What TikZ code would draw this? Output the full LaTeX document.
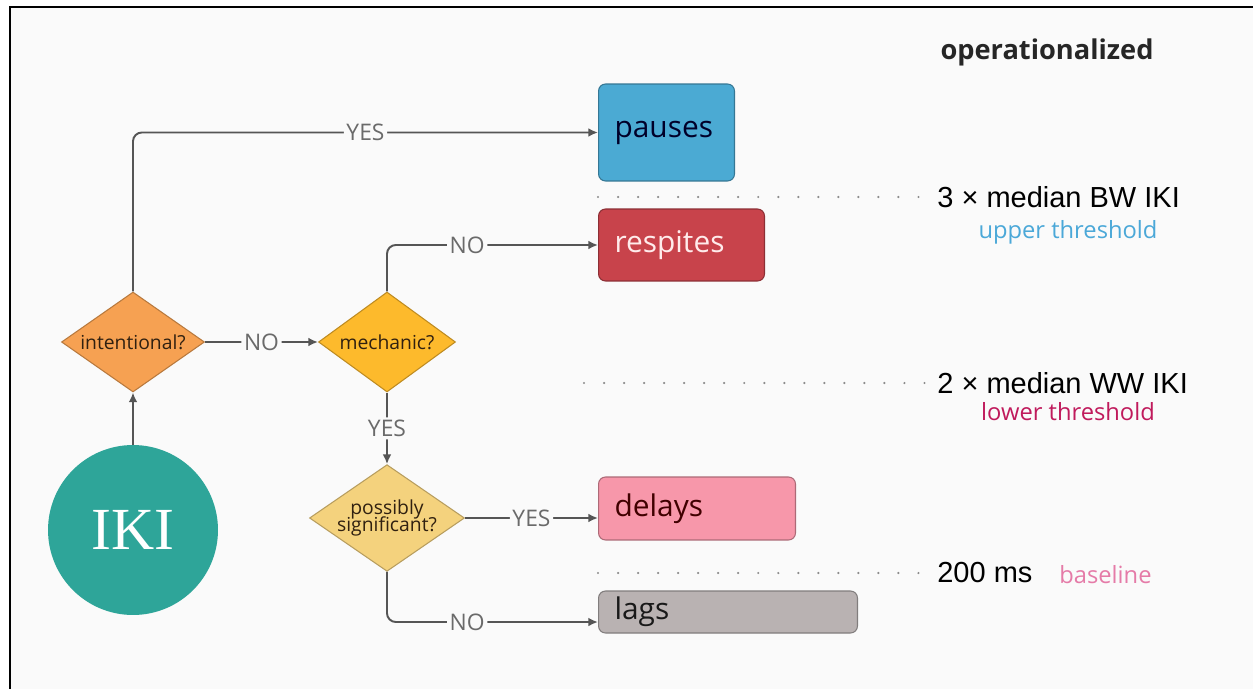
\documentclass[tikz,border=0pt]{standalone}
\usepackage{fontspec}
\setmainfont{Open Sans}
\newfontfamily\valfont{Liberation Sans}
\newfontfamily\ikifont{Liberation Serif}
\usepackage{tikz}
\usetikzlibrary{arrows.meta, positioning, shapes.geometric, calc}

\definecolor{bgcol}{HTML}{FAFAFA}
\definecolor{linecol}{HTML}{555555}
\definecolor{labcol}{HTML}{6A6A6A}
\definecolor{ikicol}{HTML}{2EA599}
\definecolor{intcol}{HTML}{F6A152}
\definecolor{mechcol}{HTML}{FDBA2C}
\definecolor{posscol}{HTML}{F4D27D}
\definecolor{pausecol}{HTML}{4BAAD3}
\definecolor{respcol}{HTML}{C8434B}
\definecolor{delaycol}{HTML}{F797AA}
\definecolor{lagcol}{HTML}{B9B2B2}
\definecolor{uppercol}{HTML}{4BA8D8}
\definecolor{lowercol}{HTML}{C01A5C}
\definecolor{basecol}{HTML}{E57BA8}

\tikzset{
  question/.style={diamond, draw=#1!75!black, fill=#1, line width=0.6pt,
    shape aspect=1.43, minimum width=2.86cm, minimum height=2cm, inner sep=0pt,
    font=\fontsize{11}{12}\selectfont, text=black!75!brown, align=center},
  outcome/.style={rectangle, rounded corners=4pt, draw=#1!70!black, fill=#1,
    line width=0.6pt, anchor=west, align=left, inner xsep=0.32cm,
    font=\fontsize{17}{19}\selectfont},
  flow/.style={draw=linecol, line width=1.1pt, rounded corners=5pt,
    -{Latex[length=5.5pt,width=5pt]}},
  answer/.style={fill=bgcol, text=labcol, inner sep=1.5pt,
    font=\fontsize{13}{14}\selectfont},
  level/.style={draw=black!45, line width=1.4pt, line cap=round,
    dash pattern=on 0pt off 11.4pt},
  value/.style={anchor=west, inner sep=0pt, font=\valfont\fontsize{16.5}{18}\selectfont},
  note/.style={inner sep=0pt, font=\fontsize{13.5}{15}\selectfont}
}

\begin{document}
\begin{tikzpicture}[x=0.02cm, y=-0.02cm]
  \useasboundingbox (0,0) rectangle (1253,689);

  % frame and background
  \fill[bgcol] (10,7) rectangle (1253,689);
  \draw[black, line width=1.6pt] (1253,7) -- (10,7) -- (10,689);

  % start
  \node[circle, fill=ikicol, minimum size=3.4cm, inner sep=0pt, text=white,
    font=\ikifont\fontsize{34}{36}\selectfont] (iki) at (133,530) {IKI};

  % decisions
  \node[question=intcol] (intent) at (133,342) {intentional?};
  \node[question=mechcol, minimum width=2.74cm] (mech) at (387,342) {mechanic?};
  \node[question=posscol, minimum width=3.1cm, minimum height=2.06cm] (poss) at (387,518)
    {possibly\\[-2pt]significant?};

  % outcomes
  \node[outcome=pausecol, text=black!60!blue!40!black, minimum height=1.94cm,
    text width=2.08cm] (pauses) at (598,132.5) {pauses};
  \node[outcome=respcol, text=red!8!white, minimum height=1.44cm,
    text width=2.68cm] (respites) at (598,245) {respites};
  \node[outcome=delaycol, text=black!75!red, minimum height=1.26cm,
    text width=3.3cm] (delays) at (598,508.5) {delays};
  \node[outcome=lagcol, text=black!90, minimum height=0.84cm,
    text width=4.54cm] (lags) at (598,612) {lags};

  % arrows
  \draw[flow] (iki) -- (intent);
  \draw[flow] (intent.north) |- node[answer, pos=0.75] {YES} (pauses.west);
  \draw[flow] (intent) -- node[answer] {NO} (mech);
  \draw[flow] (mech.north) |- node[answer, pos=0.69] {NO} (respites.west);
  \draw[flow] (mech) -- node[answer] {YES} (poss);
  \draw[flow] (poss.east) -- node[answer] {YES} ([yshift=-5.4pt]delays.west);
  \draw[flow] (poss.south) |- node[answer, pos=0.69] {NO} ([yshift=-5.7pt]lags.west);

  % thresholds
  \node[inner sep=0pt, font=\bfseries\fontsize{15.5}{17}\selectfont, text=black!85]
    (oper) at (1047,52) {operationalized};

  \node[value] (bw) at (937,197) {3 × median BW IKI};
  \node[note, text=uppercol] (upper) at (1068,232) {upper threshold};
  \coordinate (bwstart) at (598,197);
  \draw[level] (bwstart) -- ([xshift=-3pt]bw.west);

  \node[value] (ww) at (937,383) {2 × median WW IKI};
  \node[note, text=lowercol] (lower) at (1068,412) {lower threshold};
  \coordinate (wwstart) at (584,383);
  \draw[level] (wwstart) -- ([xshift=-3pt]ww.west);

  \node[value] (ms) at (937,573) {200 ms};
  \node[note, text=basecol, anchor=west] (base) at (1059,575) {baseline};
  \coordinate (msstart) at (598,573);
  \draw[level] (msstart) -- ([xshift=-3pt]ms.west);
\end{tikzpicture}
\end{document}
